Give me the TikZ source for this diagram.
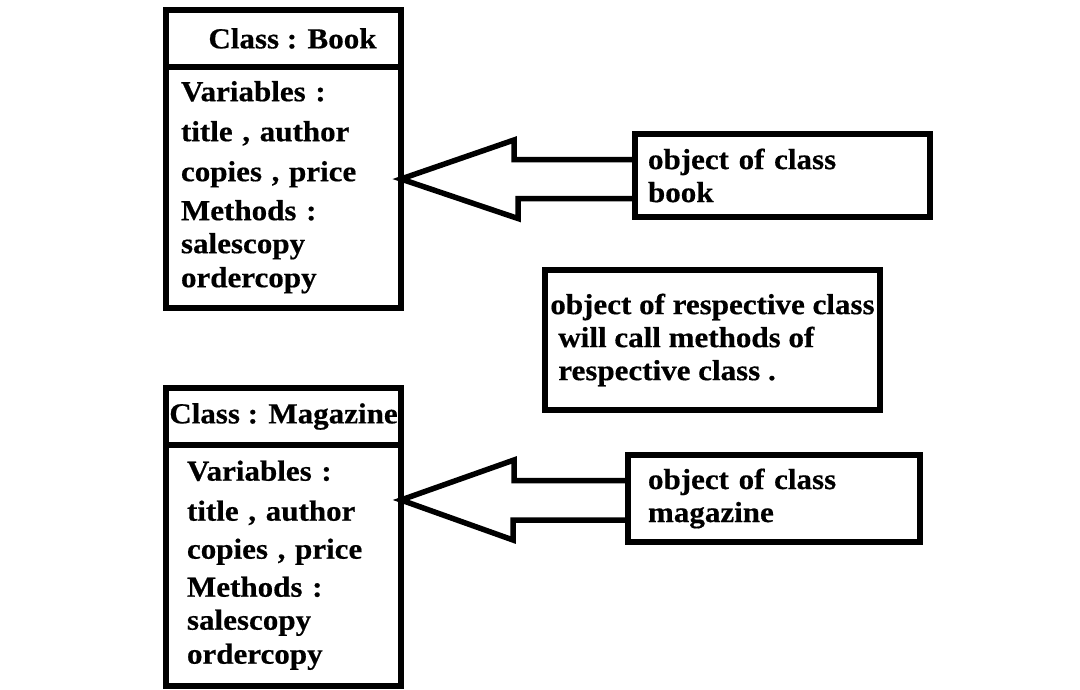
\documentclass[tikz,border=0pt]{standalone}
\usepackage{fontspec}
\setmainfont{Liberation Serif}[FakeStretch=1.07,BoldFeatures={FakeBold=0.5}]
\usepackage{tikz}
\usetikzlibrary{positioning}

\begin{document}
\begin{tikzpicture}[x=1pt,y=-1pt,
    every node/.style={font=\fontsize{29}{33}\selectfont\bfseries},
    box/.style={rectangle,draw=black,line width=6pt,fill=white,outer sep=0pt},
    classhead/.style={box,minimum width=235pt,minimum height=57pt,inner sep=0pt},
    classbody/.style={box,minimum width=235pt,minimum height=240.5pt,inner ysep=0pt,align=left},
    objbox/.style={box,inner ysep=0pt,align=left},
    hollow/.style={draw=black,line width=5.5pt}]

    \useasboundingbox (0,0) rectangle (1080,689);

    \node[classhead] (bookhead) at (283.5,38.5) {\hspace*{18pt}Class : Book};
    \node[classbody,below=0pt of bookhead,inner xsep=15pt,text width=205pt] (bookbody)
        {Variables :\\[7pt] title , author\\[7pt] copies , price\\[6pt] Methods :\\ salescopy\\[1pt] ordercopy};

    \node[classhead] (maghead) at (283.5,416.5) {Class : Magazine};
    \node[classbody,below=0pt of maghead,inner xsep=21pt,text width=193pt] (magbody)
        {Variables :\\[7pt] title , author\\[5pt] copies , price\\[5pt] Methods :\\ salescopy\\[1pt] ordercopy};

    \node[box,minimum width=335pt,minimum height=140pt,align=left] (note) at (712.5,340)
        {object of respective class\\ \hspace*{8pt}will call methods of\\ \hspace*{8pt}respective class .};

    \node[objbox,minimum width=295pt,minimum height=83pt,inner xsep=13pt,text width=269pt] (bookobj)
        at (782.5,175.5) {object of class\\ book};
    \node[objbox,minimum width=292pt,minimum height=87pt,inner xsep=20pt,text width=252pt] (magobj)
        at (774,498.5) {object of class\\ magazine};

    \coordinate (tipA) at (bookbody.east |- 0,179);
    \coordinate (tipB) at (magbody.east |- 0,500);

    \draw[hollow] (tipA) -- ++(113,-39) |- (bookobj.west |- 0,159.5)
        -- ++(0,39) -| ++(-117,20) -- cycle;
    \draw[hollow] (tipB) -- ++(113,-40) |- (magobj.west |- 0,480.5)
        -- ++(0,39.5) -| ++(-115,20) -- cycle;

\end{tikzpicture}
\end{document}
